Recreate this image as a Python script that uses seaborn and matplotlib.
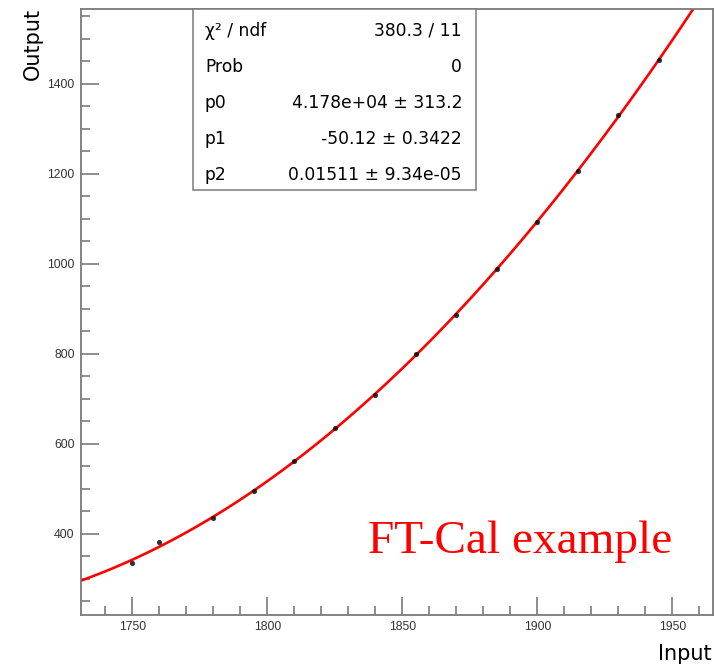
import numpy as np
import matplotlib
matplotlib.use("Agg")
import matplotlib.pyplot as plt
from matplotlib.ticker import MultipleLocator
from matplotlib.patches import Rectangle
import seaborn as sns

# ---- data ----
input_values = [1750, 1760, 1780, 1795, 1810, 1825, 1840, 1855, 1870, 1885, 1900, 1915, 1930, 1945]
output_values = [335, 382, 436, 496, 562, 635, 709, 800, 887, 988, 1094, 1207, 1330, 1453]

stat_labels = ["χ² / ndf", "Prob", "p0", "p1", "p2"]
stat_values = ["380.3 / 11", "0", "4.178e+04 ± 313.2", "-50.12 ± 0.3422", "0.01511 ± 9.34e-05"]

x_range = (1731, 1965)
y_range = (220, 1566)

sns.set_style("white")
plt.rcParams['font.family'] = ['DejaVu Sans']

W, H = 715, 669
fig = plt.figure(figsize=(W / 100, H / 100), dpi=100)
ax = fig.add_axes([81 / W, 1 - 615 / H, (713 - 81) / W, (615 - 9) / H])

ax.set_xlim(*x_range)
ax.set_ylim(*y_range)

sns.regplot(x=np.array(input_values), y=np.array(output_values), order=2, ci=None,
            truncate=False, ax=ax,
            scatter_kws=dict(s=14, color="black", zorder=3, linewidths=0),
            line_kws=dict(color="red", lw=1.9, zorder=2))
ax.set_xlim(*x_range)
ax.set_ylim(*y_range)
ax.set_xlabel("")
ax.set_ylabel("")

frame_col = "#7a7a7a"
for s in ax.spines.values():
    s.set_color(frame_col)
    s.set_linewidth(1.3)
    s.set_visible(True)

ax.xaxis.set_major_locator(MultipleLocator(50))
ax.xaxis.set_minor_locator(MultipleLocator(10))
ax.yaxis.set_major_locator(MultipleLocator(200))
ax.yaxis.set_minor_locator(MultipleLocator(50))
ax.tick_params(which="both", direction="in", color=frame_col, width=1.2,
               top=False, right=False, bottom=True, left=True,
               labelsize=8.8, labelcolor="#333333", pad=4.5)
ax.tick_params(which="major", length=13)
ax.tick_params(which="minor", length=6.5)
for lab in ax.get_xticklabels() + ax.get_yticklabels():
    lab.set_family("Liberation Sans")

# stats box
bx0, bx1, by0, by1 = 192.5, 475.7, 9, 190
fig.patches.append(Rectangle((bx0 / W, 1 - by1 / H), (bx1 - bx0) / W, (by1 - by0) / H,
                             transform=fig.transFigure, facecolor="white",
                             edgecolor=frame_col, lw=1.1, zorder=5))
for i, (lab, val) in enumerate(zip(stat_labels, stat_values)):
    yb = 1 - (35.5 + 36.1 * i) / H
    fig.text(205 / W, yb, lab, ha="left", va="baseline", fontsize=12.3, color="black", zorder=6)
    fig.text(462 / W, yb, val, ha="right", va="baseline", fontsize=12.3, color="black", zorder=6)

# axis titles (ROOT style)
fig.text(33 / W, 1 - 8 / H, "Output", rotation=90, ha="center", va="top", fontsize=15, color="black")
fig.text(712 / W, 1 - 660 / H, "Input", ha="right", va="baseline", fontsize=15, color="black")

fig.text(368 / W, 1 - 553 / H, "FT-Cal example", ha="left", va="baseline",
         fontsize=34, color="red", family="Liberation Serif")

fig.savefig("out.png", dpi=100, facecolor="white")
